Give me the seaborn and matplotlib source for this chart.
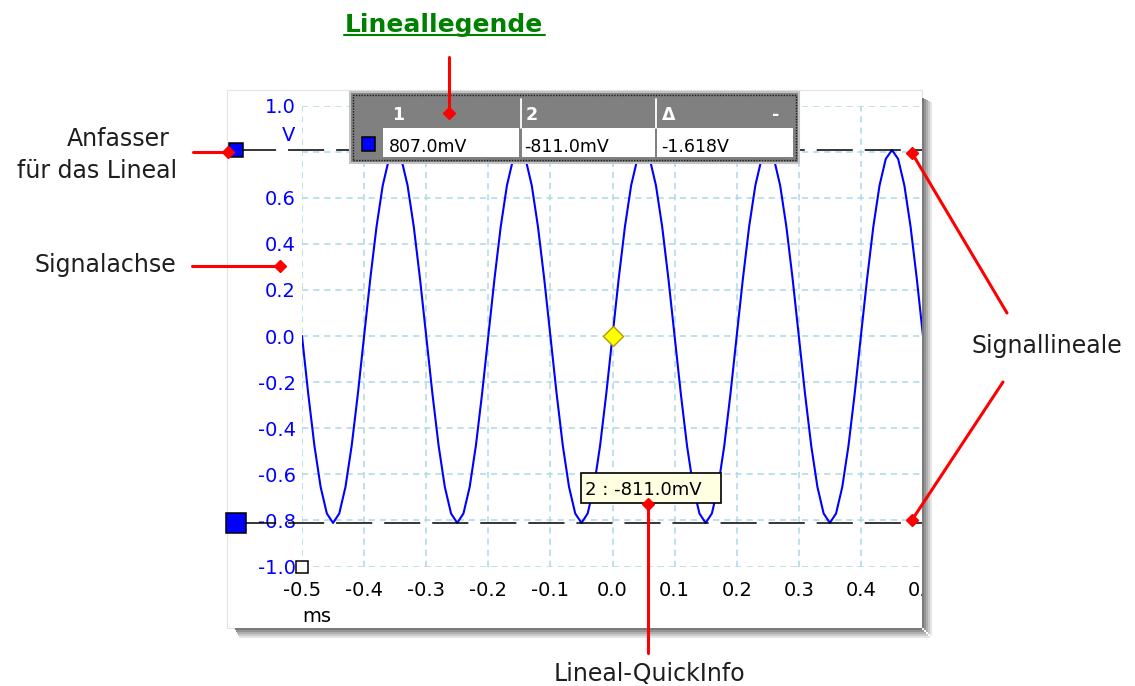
import numpy as np
import pandas as pd
import seaborn as sns
from matplotlib import pyplot as plt
from matplotlib.patches import Rectangle
from matplotlib.lines import Line2D

sns.set_style('white')
plt.rcParams['font.family'] = ['DejaVu Sans']
plt.rcParams['lines.scale_dashes'] = False

# Scope trace (time in ms, signal in V)
time_ms = [
    -0.50, -0.49, -0.48, -0.47, -0.46, -0.45, -0.44, -0.43, -0.42, -0.41,
    -0.40, -0.39, -0.38, -0.37, -0.36, -0.35, -0.34, -0.33, -0.32, -0.31,
    -0.30, -0.29, -0.28, -0.27, -0.26, -0.25, -0.24, -0.23, -0.22, -0.21,
    -0.20, -0.19, -0.18, -0.17, -0.16, -0.15, -0.14, -0.13, -0.12, -0.11,
    -0.10, -0.09, -0.08, -0.07, -0.06, -0.05, -0.04, -0.03, -0.02, -0.01,
    0.00, 0.01, 0.02, 0.03, 0.04, 0.05, 0.06, 0.07, 0.08, 0.09,
    0.10, 0.11, 0.12, 0.13, 0.14, 0.15, 0.16, 0.17, 0.18, 0.19,
    0.20, 0.21, 0.22, 0.23, 0.24, 0.25, 0.26, 0.27, 0.28, 0.29,
    0.30, 0.31, 0.32, 0.33, 0.34, 0.35, 0.36, 0.37, 0.38, 0.39,
    0.40, 0.41, 0.42, 0.43, 0.44, 0.45, 0.46, 0.47, 0.48, 0.49,
    0.50,
]
volts = [
    0.000, -0.250, -0.476, -0.655, -0.770, -0.811, -0.770, -0.655, -0.476, -0.250,
    0.000, 0.249, 0.474, 0.653, 0.768, 0.807, 0.768, 0.653, 0.474, 0.249,
    0.000, -0.250, -0.476, -0.655, -0.770, -0.811, -0.770, -0.655, -0.476, -0.250,
    0.000, 0.249, 0.474, 0.653, 0.768, 0.807, 0.768, 0.653, 0.474, 0.249,
    0.000, -0.250, -0.476, -0.655, -0.770, -0.811, -0.770, -0.655, -0.476, -0.250,
    0.000, 0.249, 0.474, 0.653, 0.768, 0.807, 0.768, 0.653, 0.474, 0.249,
    0.000, -0.250, -0.476, -0.655, -0.770, -0.811, -0.770, -0.655, -0.476, -0.250,
    0.000, 0.249, 0.474, 0.653, 0.768, 0.807, 0.768, 0.653, 0.474, 0.249,
    0.000, -0.250, -0.476, -0.655, -0.770, -0.811, -0.770, -0.655, -0.476, -0.250,
    0.000, 0.249, 0.474, 0.653, 0.768, 0.807, 0.768, 0.653, 0.474, 0.249,
    0.000,
]

x_ticks = [-0.5, -0.4, -0.3, -0.2, -0.1, 0.0, 0.1, 0.2, 0.3, 0.4, 0.5]
x_labels = ['-0.5', '-0.4', '-0.3', '-0.2', '-0.1', '0.0', '0.1', '0.2', '0.3', '0.4', '0.5']
y_ticks = [-1.0, -0.8, -0.6, -0.4, -0.2, 0.0, 0.2, 0.4, 0.6, 0.8, 1.0]
y_labels = ['-1.0', '-0.8', '-0.6', '-0.4', '-0.2', '0.0', '0.2', '0.4', '0.6', '', '1.0']

rulers = [0.807, -0.811]      # signal rulers 1 and 2 (V)
trigger = (0.0, 0.0)
handle_x = -0.607             # ruler handles sit left of the axis
ruler_start = -0.6

W, H = 1135, 686
fig = plt.figure(figsize=(W / 100, H / 100), dpi=100)


def fx(x):
    return x / W


def fy(y):
    return 1 - y / H


def box(x0, y0, x1, y1, **kw):
    fig.add_artist(Rectangle((fx(x0), fy(y1)), (x1 - x0) / W, (y1 - y0) / H,
                             transform=fig.transFigure, **kw))


def seg(xs, ys, **kw):
    fig.add_artist(Line2D([fx(x) for x in xs], [fy(y) for y in ys],
                          transform=fig.transFigure, **kw))


def label(x, y, s, **kw):
    fig.text(fx(x), fy(y), s, **kw)


def pointer(x0, y0, x1, y1):
    seg([x0, x1], [y0, y1], color='#ff0000', lw=2.2, zorder=12)
    seg([x1], [y1], marker='D', ms=6.5, color='#ff0000', ls='none', zorder=12)


# white panel with drop shadow
box(227, 90, 922, 628, fc='white', ec='#e2e2e2', lw=0.8, zorder=-5)
shades = ['#7a7a7a', '#949494', '#afafaf', '#cacaca', '#e5e5e5']
for i, c in enumerate(shades):
    box(922 + 2 * i, 98 + i, 924 + 2 * i, 628 + 2 * i, fc=c, ec='none', zorder=10)
    box(235 + i, 628 + 2 * i, 922 + 2 * i, 630 + 2 * i, fc=c, ec='none', zorder=10)
box(932, 565, 970, 610, fc='white', ec='none', zorder=10)

ax = fig.add_axes([fx(302), fy(566.5), 621 / W, 461 / H])
ax.patch.set_alpha(0)
for s in ax.spines.values():
    s.set_visible(False)

sns.lineplot(x=time_ms, y=volts, ax=ax, color='#0000ff', linewidth=1.5, sort=False, zorder=3)

ax.set_xlim(-0.5, 0.5)
ax.set_ylim(-1.0, 1.0)
ax.set_xticks(x_ticks)
ax.set_xticklabels(x_labels)
ax.set_yticks(y_ticks)
ax.set_yticklabels(y_labels)
ax.set_xlabel('')
ax.set_ylabel('')
ax.tick_params(axis='both', length=0, labelsize=14)
ax.tick_params(axis='x', pad=10.5, labelcolor='black')
ax.tick_params(axis='y', pad=4.5, labelcolor='#0000ff')
ax.set_axisbelow(True)
ax.grid(True, color='#add8e6', lw=1.1, linestyle=(0, (4.5, 3.5)))

# signal rulers with their handles
for v, size in zip(rulers, [9.5, 14.5]):
    ax.plot([ruler_start, 0.5], [v, v], color='black', lw=1.1,
            linestyle=(0, (26, 8.6)), clip_on=False, zorder=4)
    ax.plot(handle_x, v, marker='s', ms=size, mfc='#0000ff', mec='black', mew=1.1,
            clip_on=False, zorder=5)

ax.plot(-0.5, -1.0, marker='s', ms=9, mfc='white', mec='black', mew=1.1,
        clip_on=False, zorder=5)
ax.plot(trigger[0], trigger[1], marker='D', ms=10.5, mfc='#ffff00', mec='#b49a00',
        mew=1.0, zorder=6)

label(289, 141, 'V', ha='center', va='baseline', color='#0000ff', fontsize=14)
label(302, 622, 'ms', ha='left', va='baseline', color='black', fontsize=14)

# ruler legend table
box(350, 92, 799, 163, fc='#808080', ec='#c4c4c4', lw=1.5, zorder=8)
box(353, 95, 796, 160, fc='none', ec='#1a1a1a', lw=1.0, ls=(0, (1, 1)), zorder=8)
for x0, x1 in [(383, 519), (522, 655), (657, 793)]:
    box(x0, 128, x1, 157, fc='white', ec='none', zorder=8)
for xs in [520.5, 656]:
    seg([xs, xs], [99, 128], color='white', lw=1.3, zorder=8)
box(362, 137, 375, 151, fc='#0000ff', ec='black', lw=1.1, zorder=8)
hdr = dict(color='white', fontsize=12.5, fontweight='bold', va='baseline', ha='left', zorder=8)
label(392, 120, '1', **hdr)
label(526, 120, '2', **hdr)
label(662, 120, 'Δ', **hdr)
label(772, 120, '-', **hdr)
cell = dict(color='black', fontsize=12.5, va='baseline', ha='left', zorder=8)
label(389, 152, f'{rulers[0] * 1000:.1f}mV', **cell)
label(524, 152, f'{rulers[1] * 1000:.1f}mV', **cell)
label(661, 152, f'{rulers[1] - rulers[0]:.3f}V', **cell)

# ruler quick info
box(581, 473, 721, 503, fc='#ffffe1', ec='black', lw=1.2, zorder=8)
label(585, 495, f'2 : {rulers[1] * 1000:.1f}mV', color='black', fontsize=13,
      va='baseline', ha='left', zorder=8)

# callouts
note = dict(color='#1e1e1e', fontsize=17, va='baseline', ha='center')
label(444, 32, 'Lineallegende', color='#008000', fontsize=18, fontweight='bold',
      va='baseline', ha='center')
seg([344, 545], [34.5, 34.5], color='#008000', lw=1.5)
pointer(449, 57, 449, 113)

label(118, 146, 'Anfasser', **note)
label(97, 178, 'für das Lineal', **note)
pointer(193, 152, 228, 152)

label(105, 272, 'Signalachse', **note)
pointer(192, 266, 280, 266)

label(1047, 353, 'Signallineale', **note)
pointer(1007, 313, 912, 153)
pointer(1003, 382, 912, 520)

label(649, 681, 'Lineal-QuickInfo', **note)
pointer(648, 653, 648, 504)

fig.savefig('out.png', dpi=100)
